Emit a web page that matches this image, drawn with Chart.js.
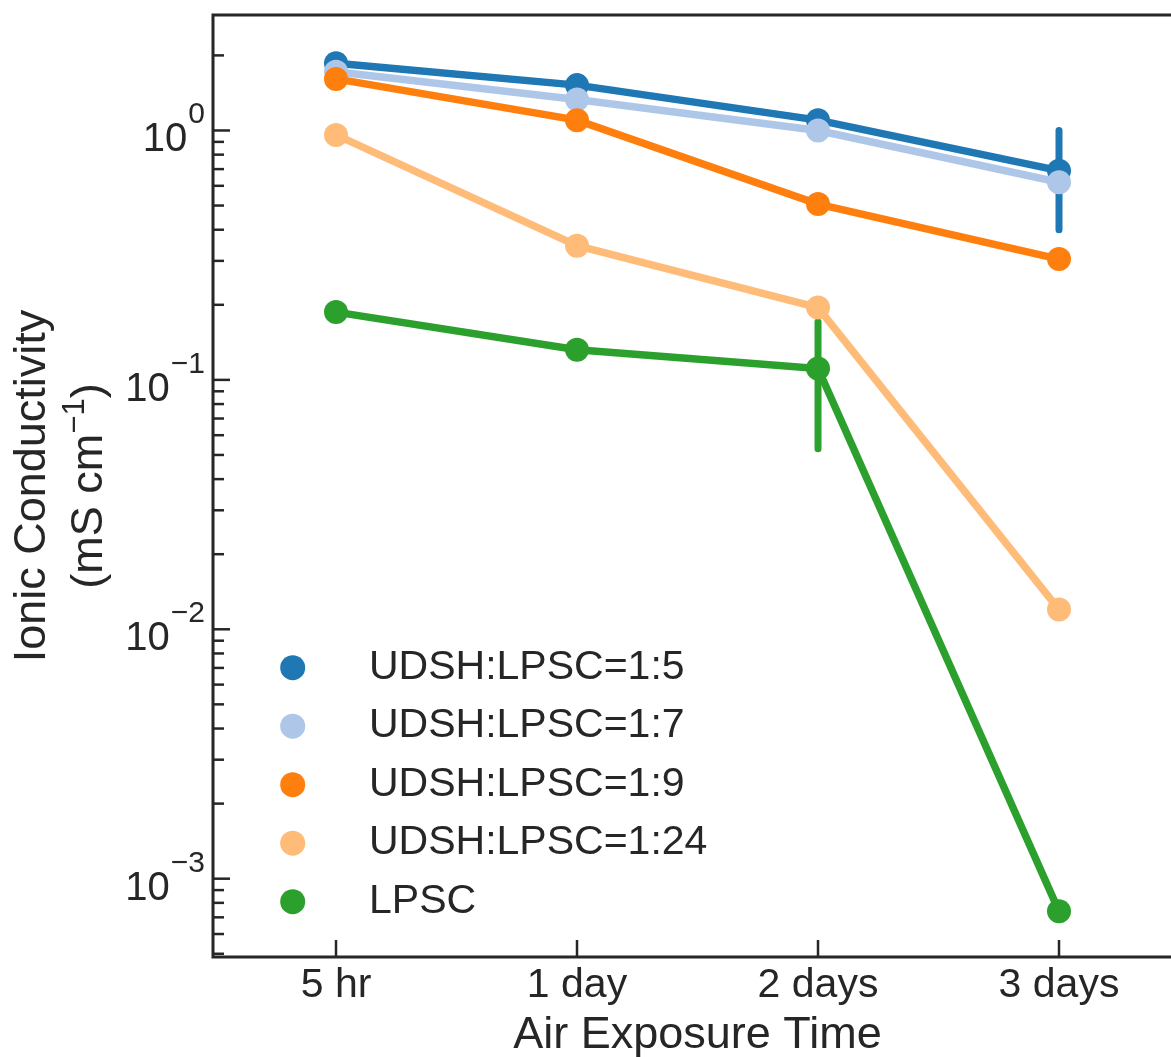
<!DOCTYPE html>
<html><head><meta charset="utf-8">
<script src="https://cdn.jsdelivr.net/npm/chart.js@4.4.1/dist/chart.umd.min.js"></script>
<style>html,body{margin:0;padding:0;background:#fff;overflow:hidden}</style>
</head><body>
<canvas id="c" width="1171" height="1057"></canvas>
<script>
// ---------- data ----------
const categories = ['5 hr', '1 day', '2 days', '3 days'];
const seriesLabels = ['UDSH:LPSC=1:5', 'UDSH:LPSC=1:7', 'UDSH:LPSC=1:9', 'UDSH:LPSC=1:24', 'LPSC'];
const ratio1to5  = [1.86, 1.52, 1.10, 0.69];
const ratio1to7  = [1.72, 1.33, 1.00, 0.62];
const ratio1to9  = [1.61, 1.10, 0.507, 0.305];
const ratio1to24 = [0.96, 0.345, 0.195, 0.0120];
const lpscOnly   = [0.187, 0.132, 0.111, 0.00074];
const err1to5Low  = [null, null, null, 0.40];
const err1to5High = [null, null, null, 1.00];
const errLpscLow  = [null, null, 0.053, null];
const errLpscHigh = [null, null, 0.171, null];
const yTickValues = [0.001, 0.01, 0.1, 1];
const yTickExponents = ['\u22123', '\u22122', '\u22121', '0'];
const xAxisTitle = 'Air Exposure Time';
const yAxisTitleLine1 = 'Ionic Conductivity';
const yAxisTitleLine2 = ['(mS cm', '\u22121', ')'];

// ---------- styles ----------
const colors = ['#1f77b4', '#aec7e8', '#ff7f0e', '#ffbb78', '#2ca02c'];
const FONT = "'Liberation Sans', Arial, Helvetica, sans-serif";
const INK = '#262626';

const seriesValues = [ratio1to5, ratio1to7, ratio1to9, ratio1to24, lpscOnly];
const seriesErrLow = [err1to5Low, null, null, null, errLpscLow];
const seriesErrHigh = [err1to5High, null, null, null, errLpscHigh];

const datasets = seriesValues.map((vals, k) => ({
  label: seriesLabels[k],
  data: vals.map((v, i) => ({x: i, y: v})),
  borderColor: colors[k],
  backgroundColor: colors[k],
  pointBackgroundColor: colors[k],
  pointBorderWidth: 0,
  pointRadius: 12,
  pointHoverRadius: 12,
  borderWidth: 7.5,
  tension: 0,
  clip: false,
  order: seriesValues.length - k,
  errLow: seriesErrLow[k],
  errHigh: seriesErrHigh[k]
}));

const decor = {
  id: 'decor',
  beforeDatasetsDraw(chart) {
    const ctx = chart.ctx, xs = chart.scales.x, ys = chart.scales.y;
    ctx.save();
    chart.data.datasets.forEach(ds => {
      if (!ds.errLow) return;
      ds.errLow.forEach((lo, i) => {
        if (lo == null) return;
        const hi = ds.errHigh[i];
        const x = xs.getPixelForValue(i);
        ctx.strokeStyle = ds.borderColor;
        ctx.lineWidth = 7;
        ctx.lineCap = 'round';
        ctx.beginPath();
        ctx.moveTo(x, ys.getPixelForValue(lo));
        ctx.lineTo(x, ys.getPixelForValue(hi));
        ctx.stroke();
      });
    });
    ctx.restore();
  },
  afterDraw(chart) {
    const ctx = chart.ctx, xs = chart.scales.x, ys = chart.scales.y, a = chart.chartArea;
    ctx.save();
    // spines
    ctx.strokeStyle = INK; ctx.lineWidth = 3; ctx.lineCap = 'butt';
    ctx.beginPath();
    ctx.moveTo(chart.width + 5, a.top); ctx.lineTo(a.left, a.top);
    ctx.lineTo(a.left, a.bottom); ctx.lineTo(chart.width + 5, a.bottom);
    ctx.stroke();
    // y ticks (inward, major + minor)
    ctx.lineWidth = 2.5;
    for (let e = -5; e <= 1; e++) {
      for (let m = 1; m <= 9; m++) {
        const v = m * Math.pow(10, e);
        if (v < ys.min || v > ys.max) continue;
        const y = ys.getPixelForValue(v);
        const len = m === 1 ? 17 : 11;
        ctx.beginPath(); ctx.moveTo(a.left, y); ctx.lineTo(a.left + len, y); ctx.stroke();
      }
    }
    // x ticks
    categories.forEach((c, i) => {
      const x = xs.getPixelForValue(i);
      ctx.beginPath(); ctx.moveTo(x, a.bottom); ctx.lineTo(x, a.bottom - 17); ctx.stroke();
    });
    ctx.fillStyle = INK;
    // y tick labels
    ctx.textBaseline = 'alphabetic';
    yTickValues.forEach((v, i) => {
      const y = ys.getPixelForValue(v);
      const rightX = a.left - 8;
      ctx.font = '30px ' + FONT;
      ctx.textAlign = 'right';
      const supW = ctx.measureText(yTickExponents[i]).width;
      ctx.fillText(yTickExponents[i], rightX, y - 7);
      ctx.font = '40px ' + FONT;
      ctx.fillText('10', rightX - supW - 1, y + 21);
    });
    // x tick labels
    ctx.font = '41px ' + FONT;
    ctx.textAlign = 'center';
    categories.forEach((c, i) => {
      ctx.fillText(c, xs.getPixelForValue(i), 997);
    });
    // x title
    ctx.font = '45px ' + FONT;
    ctx.fillText(xAxisTitle, (a.left + xs.getPixelForValue(3.51)) / 2, 1048);
    // y title
    const cy = (a.top + a.bottom) / 2;
    ctx.save();
    ctx.translate(0, cy);
    ctx.rotate(-Math.PI / 2);
    ctx.font = '45px ' + FONT;
    ctx.textAlign = 'center';
    ctx.fillText(yAxisTitleLine1, 0, 45);
    // second line with superscript
    const f1 = '45px ' + FONT, f2 = '31px ' + FONT;
    ctx.font = f1; const w1 = ctx.measureText(yAxisTitleLine2[0]).width;
    const w3 = ctx.measureText(yAxisTitleLine2[2]).width;
    ctx.font = f2; const w2 = ctx.measureText(yAxisTitleLine2[1]).width;
    const total = w1 + w2 + w3;
    let sx = -total / 2;
    ctx.textAlign = 'left';
    ctx.font = f1; ctx.fillText(yAxisTitleLine2[0], sx, 102); sx += w1;
    ctx.font = f2; ctx.fillText(yAxisTitleLine2[1], sx, 84); sx += w2;
    ctx.font = f1; ctx.fillText(yAxisTitleLine2[2], sx, 102);
    ctx.restore();
    // legend
    ctx.font = '41px ' + FONT;
    ctx.textAlign = 'left';
    chart.data.datasets.forEach((ds, k) => {
      const y = 667.7 + k * 58.5;
      ctx.fillStyle = ds.borderColor;
      ctx.beginPath(); ctx.arc(292.7, y, 12.5, 0, Math.PI * 2); ctx.fill();
      ctx.fillStyle = INK;
      ctx.fillText(ds.label, 369, y + 11);
    });
    ctx.restore();
  }
};

new Chart(document.getElementById('c'), {
  type: 'line',
  data: {datasets},
  options: {
    responsive: false,
    devicePixelRatio: 1,
    animation: false,
    events: [],
    layout: {autoPadding: false, padding: {top: 15, right: 0, left: 0, bottom: 0}},
    plugins: {legend: {display: false}, tooltip: {enabled: false}},
    scales: {
      x: {
        type: 'linear', min: -0.5104, max: 3.4647,
        grid: {display: false}, border: {display: false},
        ticks: {display: false},
        afterFit: s => { s.height = 100; s.paddingLeft = 0; s.paddingRight = 0; }
      },
      y: {
        type: 'logarithmic', min: 4.853e-4, max: 2.904,
        grid: {display: false}, border: {display: false},
        ticks: {display: false},
        afterFit: s => { s.width = 213; s.paddingTop = 0; s.paddingBottom = 0; }
      }
    }
  },
  plugins: [decor]
});
</script>
</body></html>
